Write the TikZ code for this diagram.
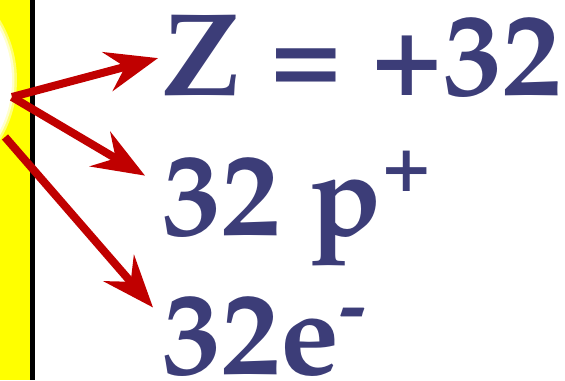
\documentclass[tikz,border=0pt]{standalone}
\usepackage[T1]{fontenc}
\usepackage{mathpazo}
\usepackage{tikz}
\usetikzlibrary{arrows.meta,positioning}
\definecolor{SlideNavy}{HTML}{3C3D78}
\definecolor{SlideRed}{HTML}{C00000}
\definecolor{SlideYellow}{HTML}{FFFF00}

\begin{document}
\begin{tikzpicture}[
  x=0.5pt,y=-0.5pt,
  big/.style={inner sep=0pt,anchor=base west,text=SlideNavy,
              font=\fontsize{59}{59}\selectfont\bfseries},
  arr/.style={-{Stealth[length=26pt,width=20pt,inset=9pt]},line width=4pt,SlideRed}
]
\useasboundingbox (0,0) rectangle (565,380);
\fill[SlideYellow] (0,0) rectangle (30,380);
\fill[SlideYellow!55!white] (-98,80) circle (115);
\fill[SlideYellow!20!white] (-98,80) circle (112.5);
\fill[white] (-98,80) circle (110);
\draw[line width=2.5pt] (32.5,0) -- (32.5,380);
\coordinate (nucleus) at (12,97);
\coordinate (shell) at (5,137);
\node[big] (charge) at (162,95) {Z = +32};
\node[big] (protons) at (162,235)
  {32 p\raisebox{22pt}{\fontsize{40}{40}\selectfont +}};
\node[big] (electrons) at (162,374)
  {32e\raisebox{21pt}{\fontsize{40}{40}\selectfont -}};
\draw[arr] (nucleus) -- ([xshift=-2pt,yshift=-1pt]charge.west);
\draw[arr] (nucleus) -- ([xshift=-8.5pt,yshift=-13pt]protons.north west);
\draw[arr] (shell) -- ([xshift=-4.5pt,yshift=-6.5pt]electrons.north west);
\end{tikzpicture}
\end{document}
